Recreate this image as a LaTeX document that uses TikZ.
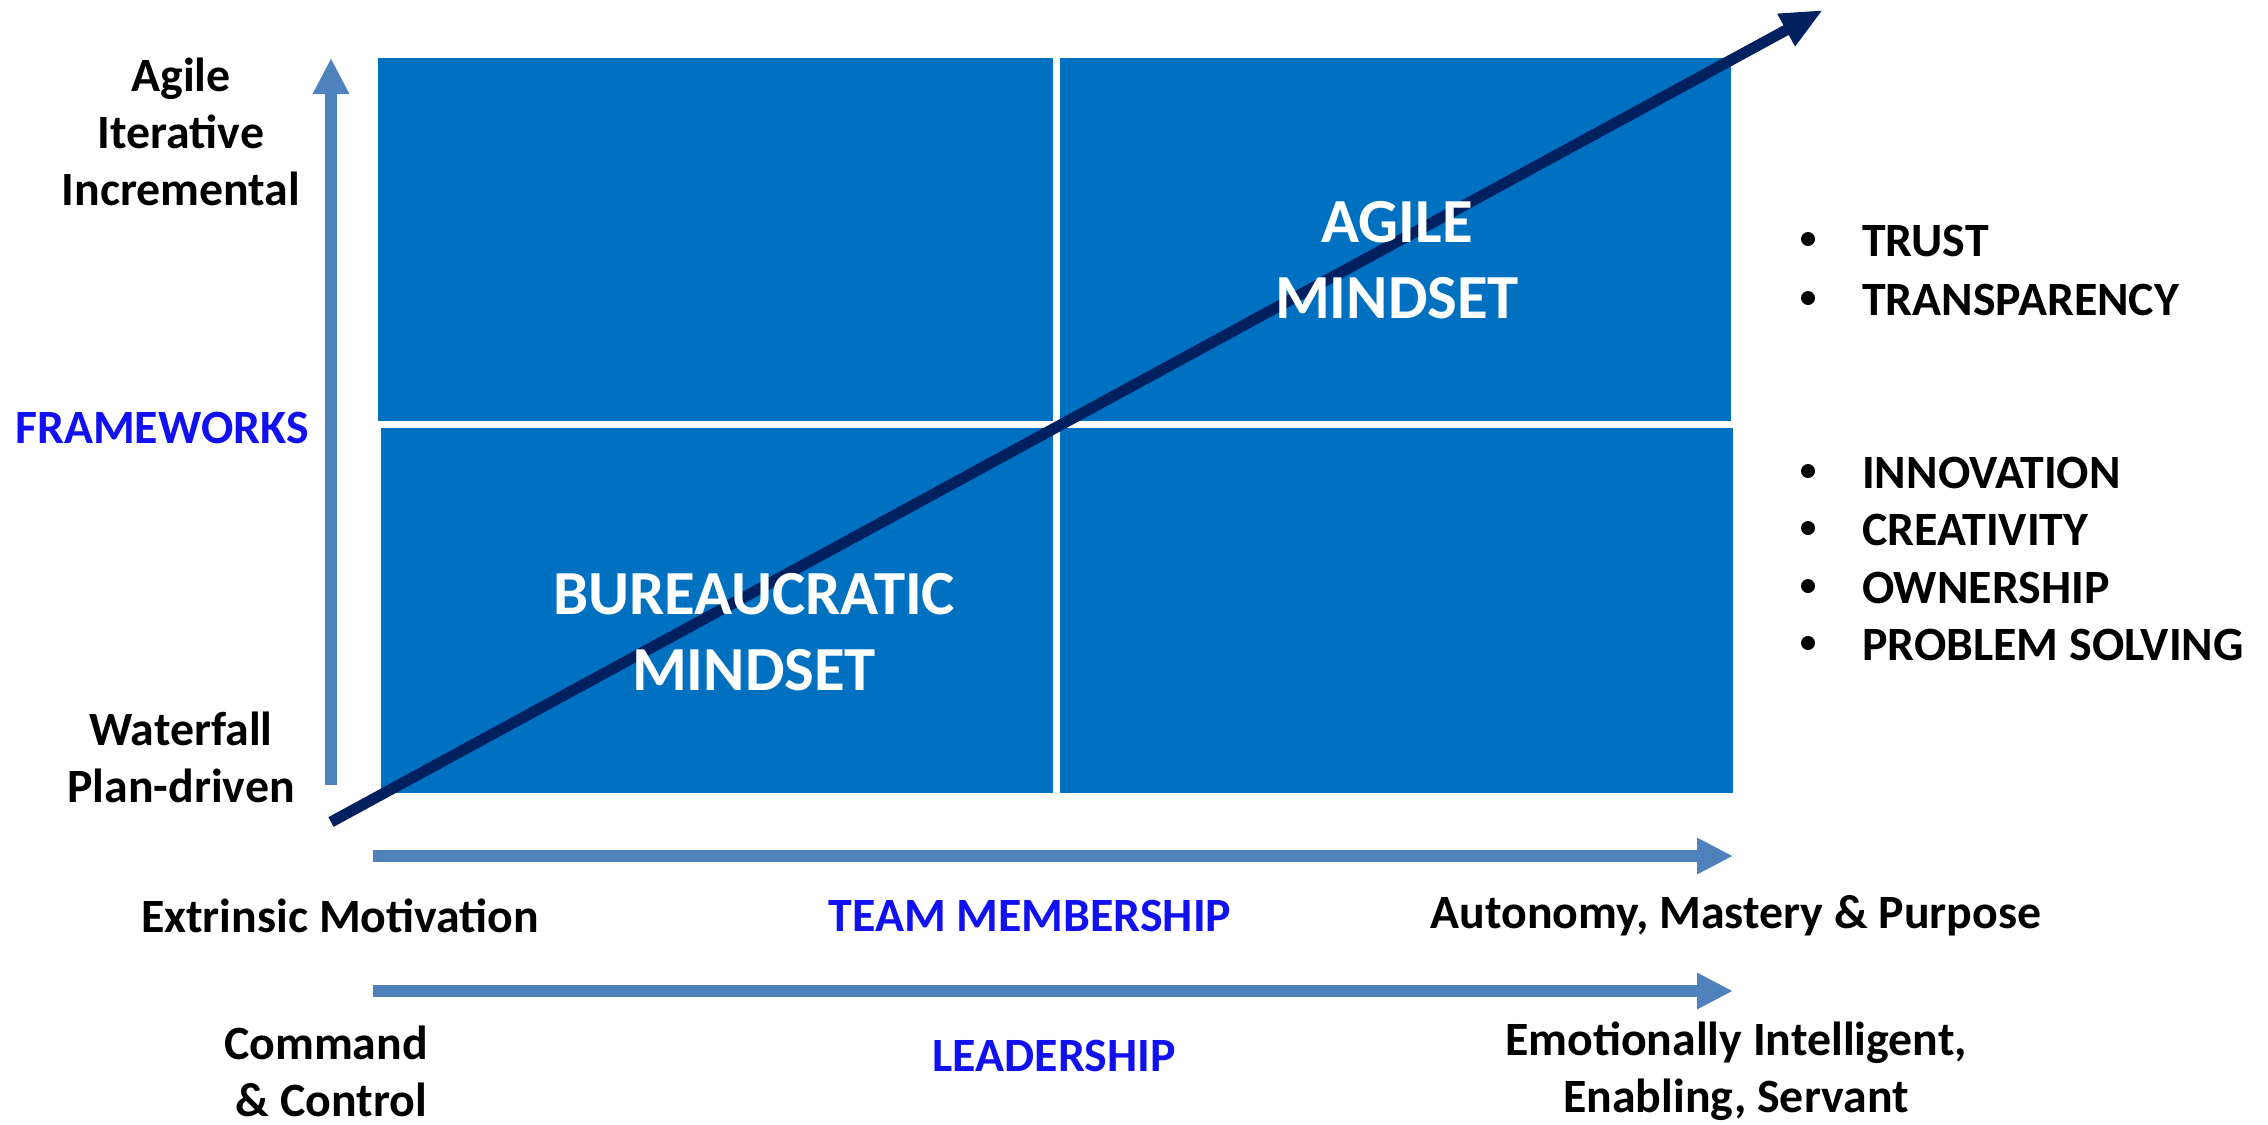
\documentclass[tikz,border=0pt]{standalone}
\usepackage{fontspec}
\setmainfont{Carlito}
\usetikzlibrary{arrows.meta}
\definecolor{boxblue}{RGB}{0,112,192}
\definecolor{arrowblue}{RGB}{79,129,189}
\definecolor{navyline}{RGB}{0,32,96}
\definecolor{labelblue}{RGB}{16,16,240}
\begin{document}
\begin{tikzpicture}[x=1bp,y=-1bp,
  quad/.style={fill=boxblue, draw=none, inner sep=0, outer sep=0, anchor=north west},
  lbl/.style={font=\bfseries\fontsize{48}{57}\selectfont, align=center, inner sep=0},
  bluelbl/.style={lbl, text=labelblue},
  bigwhite/.style={font=\bfseries\fontsize{63}{77}\selectfont, text=white, align=center, inner sep=0},
  blockarrow/.style={draw=arrowblue, line width=12bp, -{Triangle[length=36bp,width=34bp]}},
  trend/.style={draw=navyline, line width=11bp, -{Triangle[length=42bp,width=34bp]}},
  bul/.style={font=\bfseries\fontsize{48}{57}\selectfont, inner sep=0, anchor=base west},
  dot/.style={circle, fill=black, draw=none, minimum size=14bp, inner sep=0}]
\fill[white] (0,0) rectangle (2268,1124);
\useasboundingbox (0,0) rectangle (2268,1124);

% quadrants
\node[quad, minimum width=675bp, minimum height=363bp] (q1) at (378,58) {};
\node[quad, minimum width=671bp, minimum height=363bp] (q2) at (1060,58) {};
\node[quad, minimum width=672bp, minimum height=365bp] (q3) at (381,428) {};
\node[quad, minimum width=673bp, minimum height=365bp] (q4) at (1060,428) {};

% axes
\coordinate (vs) at (331,785);
\coordinate (ve) at (331,58);
\draw[blockarrow] (vs) -- (ve);
\coordinate (ts) at (373,856);
\coordinate (te) at (1733,856);
\draw[blockarrow] (ts) -- (te);
\coordinate (ls) at (373,991);
\coordinate (le) at (1733,991);
\draw[blockarrow] (ls) -- (le);

% trend arrow
\coordinate (ds) at (331,822);
\coordinate (de) at (1823,10);
\draw[trend] (ds) -- (de);

\node[bigwhite] (agile) at (1397,260) {AGILE\\MINDSET};
\node[bigwhite] (bureau) at (754,632) {BUREAUCRATIC\\MINDSET};

% left labels
\node[lbl] (top) at (181,132) {Agile\\Iterative\\Incremental};
\node[bluelbl] (fw) at (162,428) {FRAMEWORKS};
\node[lbl] (bottom) at (181,757) {Waterfall\\Plan-driven};

% team membership row
\node[lbl] (extr) at (340,916) {Extrinsic Motivation};
\node[bluelbl] (team) at (1030,916) {TEAM MEMBERSHIP};
\node[lbl] (auto) at (1736,916) {Autonomy, Mastery \& Purpose};

% leadership row
\node[lbl] (cmd) at (326,1071) {Command\\\ \& Control};
\node[bluelbl] (lead) at (1054,1056) {LEADERSHIP};
\node[lbl] (emo) at (1736,1071) {Emotionally Intelligent,\\Enabling, Servant};

% bullets
\foreach \n/\t/\y in {b1/TRUST/256, b2/TRANSPARENCY/315, b3/INNOVATION/488, b4/CREATIVITY/545, b5/OWNERSHIP/603, b6/PROBLEM SOLVING/660}{
  \node[dot] (\n dot) at (1808,\y-17) {};
  \node[bul] (\n) at (1862,\y) {\t};
}
\end{tikzpicture}
\end{document}
